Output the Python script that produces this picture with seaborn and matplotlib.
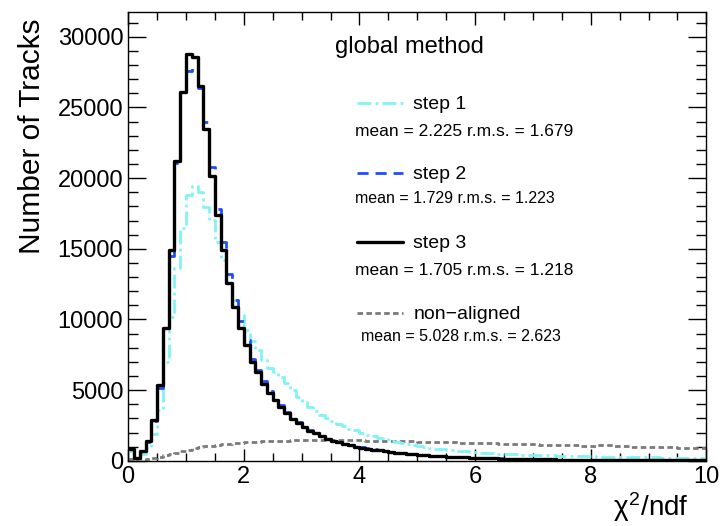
import numpy as np
import pandas as pd
import matplotlib
matplotlib.use("Agg")
import matplotlib.pyplot as plt
import seaborn as sb

# Histogrammes chi2/ndf, 100 bins de 0 a 10
edges = np.round(np.arange(0, 10.01, 0.1), 2)
centers = np.round(edges[:-1] + 0.05, 3)

step1 = [700, 150, 450, 900, 1900, 3600, 7020, 10200, 13620, 16460,
         18810, 19470, 19050, 17990, 17040, 15510, 14200, 12570, 11390, 10330,
         9260, 8510, 7850, 7140, 6550, 6300, 5900, 5500, 5000, 4500,
         4150, 3800, 3550, 3250, 3000, 2800, 2600, 2450, 2280, 2150,
         1980, 1850, 1740, 1630, 1520, 1420, 1330, 1250, 1170, 1100,
         1030, 970, 910, 860, 810, 770, 730, 690, 660, 630,
         600, 575, 550, 530, 510, 490, 470, 455, 440, 425,
         410, 395, 385, 375, 365, 355, 345, 335, 325, 315,
         305, 298, 290, 283, 276, 270, 263, 257, 251, 245,
         240, 235, 230, 225, 220, 215, 210, 205, 200, 195]

step2 = [800, 200, 620, 1350, 2820, 5180, 9260, 14500, 21050, 26000,
         27580, 27880, 26350, 24000, 20800, 17800, 15470, 13220, 11390, 9920,
         8560, 7190, 6430, 5610, 4970, 4400, 3930, 3450, 3020, 2720,
         2430, 2190, 1990, 1750, 1560, 1430, 1310, 1210, 1110, 1020,
         940, 870, 800, 740, 680, 630, 580, 540, 500, 460,
         430, 400, 370, 345, 320, 300, 280, 260, 245, 230,
         215, 200, 188, 176, 165, 155, 146, 138, 130, 123,
         116, 110, 104, 98, 93, 88, 83, 79, 75, 71,
         68, 65, 62, 59, 57, 55, 53, 51, 49, 47,
         45, 44, 42, 41, 40, 39, 38, 37, 36, 35]

step3 = [850, 190, 660, 1410, 2900, 5330, 9430, 14900, 21200, 26100,
         28760, 28600, 26500, 23450, 20180, 17400, 14920, 12570, 10870, 9380,
         8200, 7020, 6270, 5450, 4830, 4300, 3840, 3370, 2950, 2660,
         2380, 2140, 1960, 1720, 1530, 1410, 1300, 1200, 1100, 1010,
         930, 860, 790, 730, 670, 620, 570, 530, 490, 450,
         420, 390, 360, 340, 310, 290, 270, 250, 235, 220,
         205, 195, 180, 170, 160, 150, 140, 135, 125, 120,
         112, 105, 100, 95, 90, 85, 80, 76, 72, 68,
         65, 62, 59, 56, 54, 52, 50, 48, 46, 44,
         42, 41, 40, 38, 37, 36, 35, 34, 33, 32]

non_aligned = [100, 60, 90, 150, 220, 300, 390, 480, 580, 680,
               780, 870, 950, 1020, 1080, 1130, 1180, 1220, 1260, 1290,
               1320, 1340, 1360, 1380, 1400, 1410, 1420, 1430, 1440, 1450,
               1460, 1460, 1470, 1470, 1470, 1470, 1460, 1460, 1450, 1450,
               1440, 1430, 1430, 1420, 1410, 1410, 1400, 1390, 1380, 1370,
               1360, 1350, 1340, 1330, 1320, 1310, 1300, 1290, 1280, 1270,
               1260, 1250, 1240, 1230, 1220, 1210, 1200, 1190, 1180, 1170,
               1160, 1150, 1140, 1130, 1120, 1110, 1100, 1090, 1080, 1070,
               1070, 1100, 1110, 1100, 1080, 1050, 1030, 1010, 1000, 990,
               980, 970, 960, 950, 940, 930, 920, 910, 900, 890]

labels = ["step 1", "step 2", "step 3", "non\u2212aligned"]
stats = ["mean = 2.225 r.m.s. = 1.679", "mean = 1.729 r.m.s. = 1.223",
         "mean = 1.705 r.m.s. = 1.218", "mean = 5.028 r.m.s. = 2.623"]

sb.set_theme(style="ticks")
plt.rcParams['font.family'] = ['Liberation Sans', 'DejaVu Sans']
plt.rcParams['mathtext.fontset'] = 'custom'
plt.rcParams['mathtext.rm'] = 'Liberation Sans'
plt.rcParams['mathtext.it'] = 'Liberation Sans'
plt.rcParams['text.color'] = 'black'
plt.rcParams['axes.labelcolor'] = 'black'

fig = plt.figure(figsize=(7.2, 5.26), dpi=100)
ax = fig.add_axes([0.178, 0.124, 0.803, 0.853])

styles = [
    dict(color="#80f4f4", lw=2.0, ls=(0, (5, 1.5, 1, 1.5))),
    dict(color="#1f4dff", lw=2.0, ls=(0, (4, 2.5))),
    dict(color="black", lw=2.4, ls="-"),
    dict(color="#7a7a7a", lw=2.0, ls=(0, (2, 1.2))),
]
series = [step1, step2, step3, non_aligned]

# on trace le non-aligne d'abord, puis les etapes, le noir au dessus
order = [3, 0, 1, 2]
for i in order:
    df = pd.DataFrame({"chi2": centers, "n": series[i]})
    st = styles[i]
    sb.histplot(data=df, x="chi2", weights="n", binwidth=0.1,
                binrange=(0, 10), element="step",
                fill=False, color=st["color"], linewidth=st["lw"],
                linestyle=st["ls"], ax=ax)

ax.set_xlim(0, 10)
ax.set_ylim(0, 31750)
ax.set_xticks([0, 2, 4, 6, 8, 10])
ax.set_xticks(np.arange(0, 10.01, 0.5), minor=True)
ax.set_yticks(np.arange(0, 30001, 5000))
ax.set_yticks(np.arange(0, 31001, 1000), minor=True)
ax.tick_params(which="both", direction="in", top=True, right=True,
               colors="black", labelsize=17)
ax.tick_params(axis="y", which="major", length=13, width=1)
ax.tick_params(axis="y", which="minor", length=7, width=1)
ax.tick_params(axis="x", which="major", length=9, width=1, pad=4)
ax.tick_params(axis="x", which="minor", length=5.5, width=1)
for s in ax.spines.values():
    s.set_color("black")
    s.set_linewidth(1.0)

# titres d'axes alignes au bout, facon ROOT
ax.set_ylabel("Number of Tracks", fontsize=21.5)
ax.set_xlabel(r"$\chi^2$/ndf", fontsize=20)
ax.xaxis.set_label_coords(0.969, -0.065)
ax.xaxis.label.set_horizontalalignment("right")
ax.xaxis.label.set_verticalalignment("top")
# le ylabel est en rotation_mode "anchor" : ha="right" = bout du texte en haut
ax.yaxis.set_label_coords(-0.166, 0.985)
ax.yaxis.label.set_horizontalalignment("right")
ax.yaxis.label.set_verticalalignment("center")

# legende faite a la main, comme dans ROOT
ax.text(0.358, 0.922, "global method", transform=ax.transAxes,
        fontsize=17, va="center", ha="left")
ly = [0.797, 0.641, 0.488, 0.330]
sy = [0.733, 0.584, 0.425, 0.276]
sx = [0.393, 0.393, 0.393, 0.403]
sfs = [12.5, 11.5, 12.5, 11.5]
for k in range(4):
    st = styles[k]
    ax.plot([0.396, 0.476], [ly[k], ly[k]], transform=ax.transAxes,
            color=st["color"], lw=st["lw"], ls=st["ls"], clip_on=False)
    ax.text(0.493, ly[k] - 0.003, labels[k], transform=ax.transAxes,
            fontsize=14, va="center", ha="left")
    ax.text(sx[k], sy[k], stats[k], transform=ax.transAxes,
            fontsize=sfs[k], va="center", ha="left")

plt.savefig("out.png", dpi=100)
